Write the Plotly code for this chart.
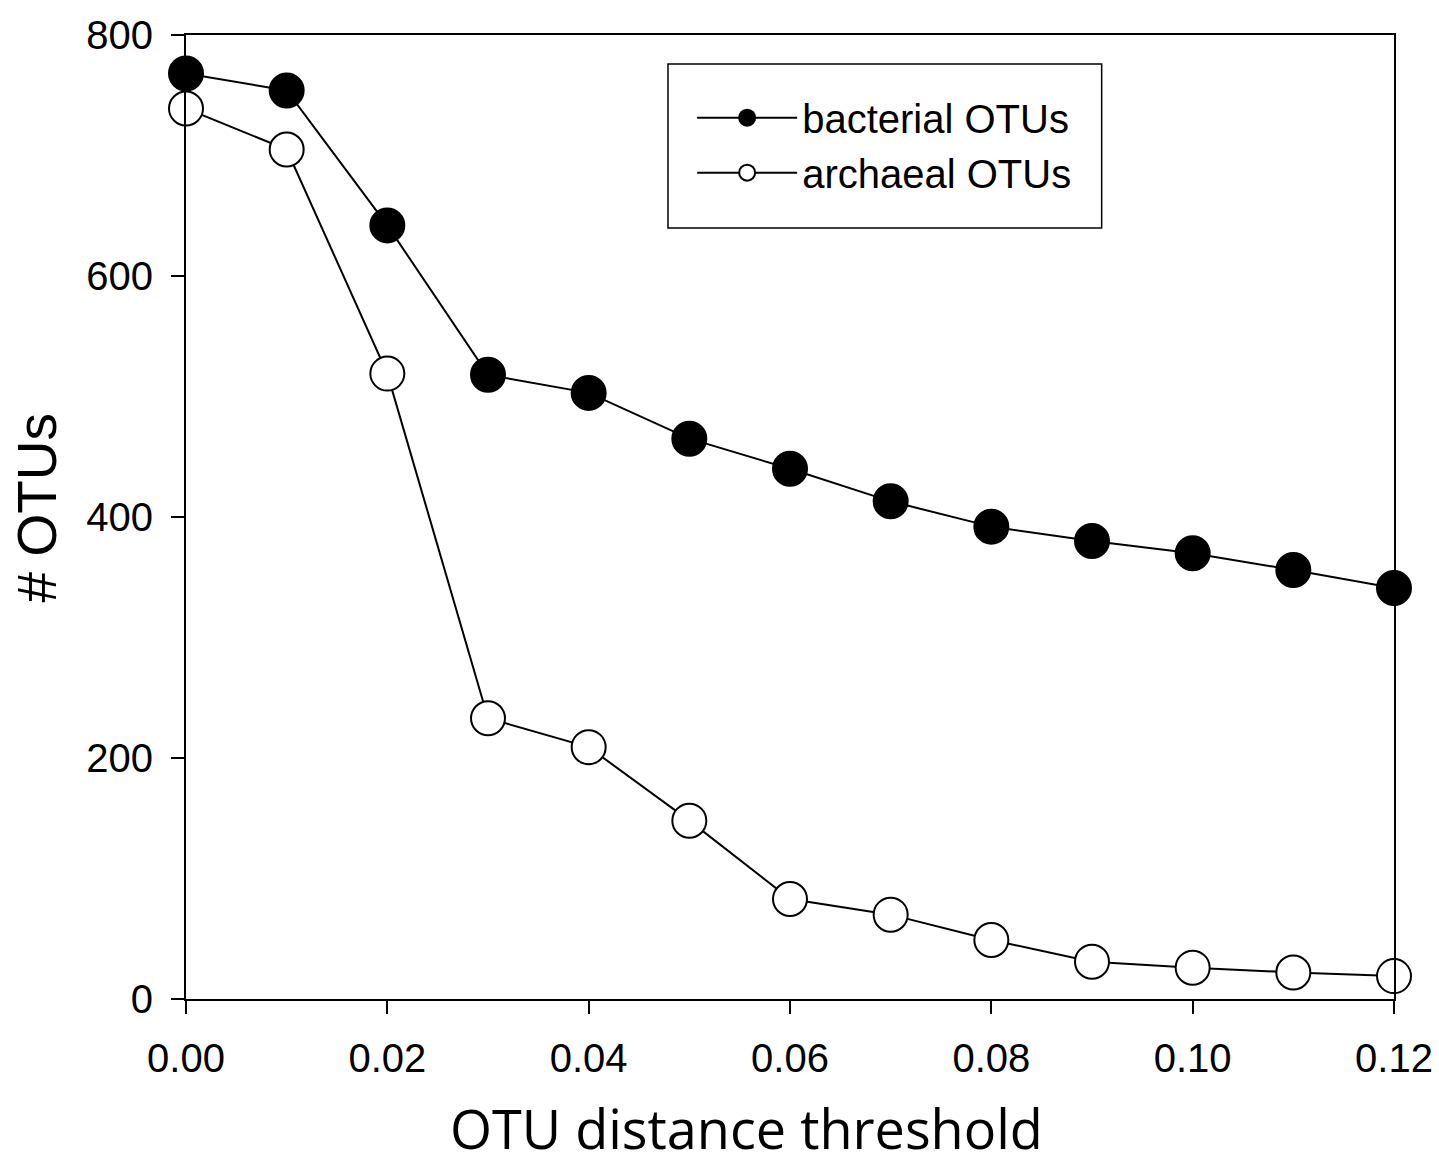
import plotly.graph_objects as go

thresholds = [0.00, 0.01, 0.02, 0.03, 0.04, 0.05, 0.06, 0.07, 0.08, 0.09, 0.10, 0.11, 0.12]
bacterial = [768, 754, 642, 518, 503, 465, 440, 413, 392, 380, 370, 356, 341]
archaeal = [739, 705, 519, 233, 209, 148, 83, 70, 49, 31, 26, 22, 19]
x_ticks = [0.00, 0.02, 0.04, 0.06, 0.08, 0.10, 0.12]
x_tick_labels = ["0.00", "0.02", "0.04", "0.06", "0.08", "0.10", "0.12"]
y_ticks = [0, 200, 400, 600, 800]

fig = go.Figure()
fig.add_trace(go.Scatter(
    x=thresholds, y=bacterial, mode="lines+markers", name="bacterial OTUs",
    line=dict(color="black", width=2),
    marker=dict(symbol="circle", size=34, color="black", line=dict(color="black", width=2)),
    cliponaxis=False,
))
fig.add_trace(go.Scatter(
    x=thresholds, y=archaeal, mode="lines+markers", name="archaeal OTUs",
    line=dict(color="black", width=2),
    marker=dict(symbol="circle", size=34, color="white", line=dict(color="black", width=2)),
    cliponaxis=False,
))

axis_font = dict(family="Liberation Sans, Arial, sans-serif", size=40, color="black")

fig.update_layout(
    width=1439, height=1164,
    margin=dict(l=186, r=45, t=35, b=165, autoexpand=False),
    paper_bgcolor="white", plot_bgcolor="white",
    showlegend=True,
    legend=dict(
        x=0.419, y=0.948, xanchor="left", yanchor="top",
        borderwidth=0, bgcolor="rgba(0,0,0,0)",
        font=dict(family="Liberation Sans, Arial, sans-serif", size=40, color="black"),
        itemwidth=100, tracegroupgap=0,
    ),
    shapes=[dict(
        type="rect", xref="paper", yref="paper",
        x0=0.399, x1=0.758, y0=0.7998, y1=0.970,
        line=dict(color="black", width=1.5), fillcolor="rgba(0,0,0,0)", layer="below",
    )],
    xaxis=dict(
        range=[0, 0.12], tickvals=x_ticks, ticktext=x_tick_labels,
        ticks="outside", ticklen=13, tickwidth=2, tickcolor="black",
        showline=True, linecolor="black", linewidth=2, mirror=True,
        showgrid=False, zeroline=False, tickfont=axis_font,
        ticklabelstandoff=10, automargin=False,
    ),
    yaxis=dict(
        range=[0, 800], tickvals=y_ticks,
        ticks="outside", ticklen=13, tickwidth=2, tickcolor="black",
        showline=True, linecolor="black", linewidth=2, mirror=True,
        showgrid=False, zeroline=False, tickfont=axis_font,
        ticklabelstandoff=10, automargin=False,
    ),
    annotations=[
        dict(text="OTU distance threshold", xref="paper", yref="paper",
             x=0.4644, y=-0.1335, xanchor="center", yanchor="middle", showarrow=False,
             font=dict(family="Open Sans, sans-serif", size=54, color="black")),
        dict(text="# OTUs", xref="paper", yref="paper",
             x=-0.1233, y=0.509, xanchor="center", yanchor="middle", showarrow=False,
             textangle=-90,
             font=dict(family="Liberation Sans, Arial, sans-serif", size=55, color="black")),
    ],
)

fig.write_html("out.html")
